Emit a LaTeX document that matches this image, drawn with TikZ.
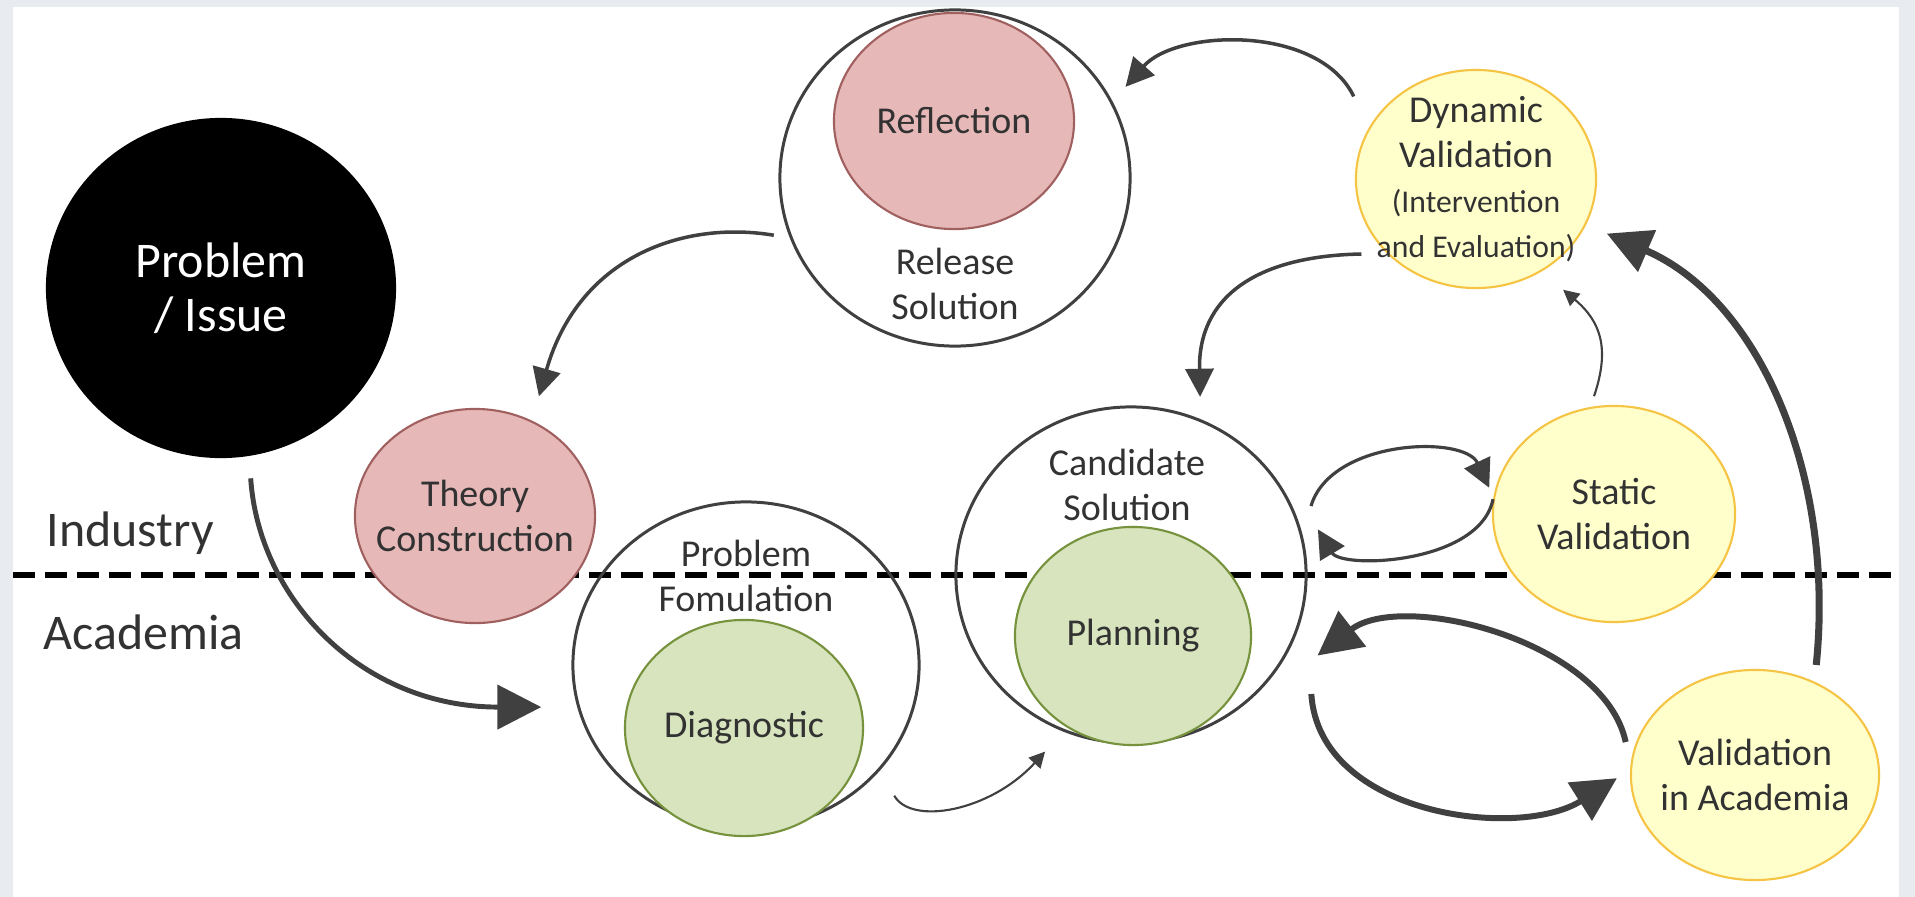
\documentclass[tikz,border=0pt]{standalone}
\usepackage{fontspec}
\setmainfont{Carlito}
\usepackage{tikz}
\usetikzlibrary{shapes.geometric,arrows.meta}
\definecolor{myframe}{RGB}{232,235,239}
\definecolor{mypink}{RGB}{230,185,184}
\definecolor{mypinkline}{RGB}{160,96,95}
\definecolor{mygreen}{RGB}{215,228,189}
\definecolor{mygreenline}{RGB}{118,146,60}
\definecolor{myyellow}{RGB}{255,255,204}
\definecolor{myyellowline}{RGB}{246,196,69}
\definecolor{mygray}{RGB}{64,64,64}
\definecolor{mytext}{RGB}{50,50,50}

\begin{document}
\begin{tikzpicture}[x=0.01cm,y=-0.01cm,
    bubble/.style={ellipse,draw,line width=0.6pt,inner sep=0pt},
    ring/.style={ellipse,draw=mygray,line width=0.85pt,inner sep=0pt},
    lbl/.style={align=center,text=mytext,inner sep=0pt,font=\fontsize{10.8}{12.8}\selectfont},
    side/.style={anchor=west,inner sep=0pt,text=mytext,font=\fontsize{14.2}{15.4}\selectfont},
    arr/.style={draw=mygray,line width=1pt,-{Triangle[length=8pt,width=8pt]}},
    thinarr/.style={draw=mygray,line width=0.6pt,-{Triangle[length=4.5pt,width=4.5pt]}},
    thickarr/.style={draw=mygray,line width=1.7pt,-{Triangle[length=12.5pt,width=12.5pt]}}]
        \fill[myframe] (0,0) rectangle (1915,897);
        \fill[white] (13,7) rectangle (1899,897);
        \useasboundingbox (0,0) rectangle (1915,897);
        \draw[black,line width=1.7pt,dash pattern=on 6.3pt off 2.8pt] (13,575) -- (1899,575);
        \node[side] (ind) at (46,533) {Industry};
        \node[side] (acad) at (43,632) {Academia};
        \node[ellipse,fill=black,inner sep=0pt,minimum width=3.5cm,minimum height=3.4cm,text=white,align=center,font=\fontsize{14.2}{15.4}\selectfont] (prob) at (221,288) {Problem\\/ Issue};
        \node[ring,minimum width=3.5cm,minimum height=3.36cm] (rel) at (955,178) {};
        \node[lbl] (reltxt) at (955,284) {Release\\Solution};
        \node[bubble,fill=mypink,draw=mypinkline,minimum width=2.4cm,minimum height=2.16cm,label={[lbl]center:Reflection}] (refl) at (954,121) {};
        \node[bubble,fill=myyellow,draw=myyellowline,minimum width=2.4cm,minimum height=2.18cm,label={[lbl]center:{Dynamic\\Validation\\\fontsize{9}{11.4}\selectfont(Intervention\\\fontsize{9}{11.4}\selectfont and Evaluation)}}] (dyn) at (1476,179) {};
        \node[bubble,fill=mypink,draw=mypinkline,minimum width=2.4cm,minimum height=2.14cm,label={[lbl]center:Theory\\Construction}] (theo) at (475,516) {};
        \node[ring,minimum width=3.46cm,minimum height=3.26cm] (pform) at (746,665) {};
        \node[lbl] (pformtxt) at (746,576) {Problem\\Fomulation};
        \node[bubble,fill=mygreen,draw=mygreenline,minimum width=2.38cm,minimum height=2.16cm,label={[lbl]center:Diagnostic}] (diag) at (744,728) {};
        \node[ring,minimum width=3.5cm,minimum height=3.36cm] (cand) at (1131,575) {};
        \node[lbl] (candtxt) at (1127,485) {Candidate\\Solution};
        \node[bubble,fill=mygreen,draw=mygreenline,minimum width=2.36cm,minimum height=2.18cm,label={[lbl]center:Planning}] (plan) at (1133,636) {};
        \node[bubble,fill=myyellow,draw=myyellowline,minimum width=2.42cm,minimum height=2.16cm,label={[lbl]center:Static\\Validation}] (stat) at (1614,514) {};
        \node[bubble,fill=myyellow,draw=myyellowline,minimum width=2.48cm,minimum height=2.1cm,label={[lbl]center:Validation\\in Academia}] (vacad) at (1755,775) {};
        \draw[thickarr,line width=1.4pt] ([shift={(0,22)}]prob.-80) .. controls +(8,120) and +(-180,0) .. ([shift={(-36,0)}]pform.194);
        \draw[arr] ([shift={(-15,0)}]rel.199) .. controls +(-90,-15) and +(40,-140) .. ([shift={(12,-22)}]theo.62);
        \draw[arr] ([shift={(-25,-17)}]dyn.146) .. controls +(-35,-72) and +(51,-58) .. ([shift={(16,-9)}]rel.28);
        \draw[arr] ([shift={(-16,11)}]dyn.213) .. controls +(-108,2) and +(-2,-98) .. ([shift={(8,-19)}]cand.69);
        \draw[thinarr] ([shift={(-1,-10)}]stat.100) .. controls +(16,-47) and +(38,32) .. ([shift={(17,21)}]dyn.-52);
        \draw[thickarr,line width=2pt] ([shift={(8,-14)}]vacad.61) .. controls +(19,-186) and +(155,67) .. ([shift={(21,8)}]dyn.-23);
        \draw[arr,line width=0.9pt] ([shift={(16,-6)}]cand.21) .. controls +(20,-67) and +(-25,-53) .. ([shift={(-6,-1)}]stat.168);
        \draw[arr,line width=0.9pt] (stat.173) .. controls +(-13,65) and +(24,40) .. ([shift={(16,-3)}]cand.14);
        \draw[thickarr] ([shift={(-10,-1)}]vacad.165) .. controls +(-22,-102) and +(84,-65) .. ([shift={(25,12)}]cand.-23);
        \draw[thickarr] ([shift={(34,24)}]cand.-33) .. controls +(8,122) and +(-98,62) .. ([shift={(-13,1)}]vacad.181);
        \draw[thinarr] ([shift={(22,17)}]pform.-42) .. controls +(17,30) and +(-55,60) .. ([shift={(-11,23)}]cand.244);
    \end{tikzpicture}
\end{document}
